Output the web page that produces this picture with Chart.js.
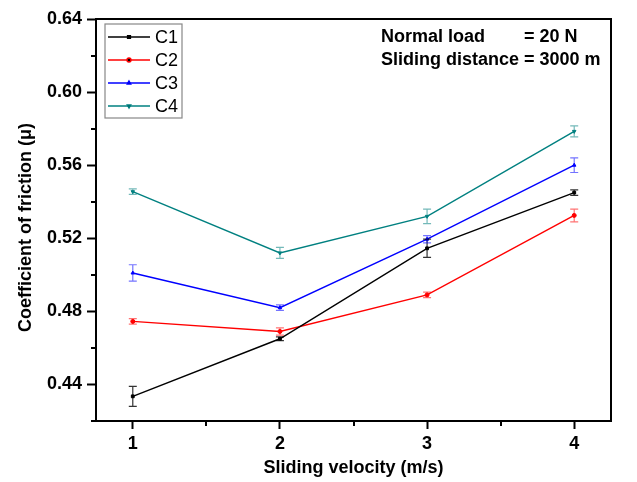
<!DOCTYPE html>
<html>
<head>
<meta charset="utf-8">
<script src="https://cdn.jsdelivr.net/npm/chart.js@4"></script>
<style>
  html, body { margin: 0; padding: 0; background: #fff; }
  #wrap { width: 637px; height: 482px; }
</style>
</head>
<body>
<div id="wrap"><canvas id="frictionChart" width="637" height="482"></canvas></div>
<script>
  const velocity = [1, 2, 3, 4];
  const seriesNames = ['C1', 'C2', 'C3', 'C4'];
  const c1 = [0.4335, 0.4650, 0.5145, 0.5450];
  const c2 = [0.4745, 0.4690, 0.4890, 0.5325];
  const c3 = [0.5010, 0.4820, 0.5195, 0.5600];
  const c4 = [0.5455, 0.5120, 0.5320, 0.5785];
  const c1Err = [0.0055, 0.0010, 0.0050, 0.0015];
  const c2Err = [0.0015, 0.0020, 0.0015, 0.0035];
  const c3Err = [0.0045, 0.0015, 0.0020, 0.0040];
  const c4Err = [0.0015, 0.0030, 0.0040, 0.0030];
  const yTicks = [0.44, 0.48, 0.52, 0.56, 0.60, 0.64];
  const yMinorTicks = [0.42, 0.46, 0.50, 0.54, 0.58, 0.62];
  const xMinorTicks = [1.5, 2.5, 3.5];

  const FONT = 'Arial, "Liberation Sans", sans-serif';
  Chart.defaults.font.family = FONT;
  Chart.defaults.color = '#000';

  const colors = ['#000000', '#ff0000', '#0000ff', '#008080'];
  const errColors = ['rgba(0,0,0,0.8)', 'rgba(255,0,0,0.55)', 'rgba(0,0,255,0.55)', 'rgba(0,128,128,0.55)'];
  const styles = ['rect', 'circle', 'triangle', 'triangle'];
  const rotations = [0, 0, 0, 180];
  const values = [c1, c2, c3, c4];
  const errors = [c1Err, c2Err, c3Err, c4Err];

  const datasets = values.map((vals, i) => ({
    label: seriesNames[i],
    data: vals.map((v, j) => ({ x: velocity[j], y: v })),
    err: errors[i],
    borderColor: colors[i],
    backgroundColor: colors[i],
    borderWidth: 1.4,
    pointStyle: styles[i],
    rotation: rotations[i],
    pointRadius: 2,
    pointBorderWidth: 1,
    tension: 0
  }));

  // error bars, minor ticks, frame, legend and the note
  const extras = {
    id: 'extras',
    afterDatasetsDraw(chart) {
      const { ctx, scales: { x, y } } = chart;
      ctx.save();
      chart.data.datasets.forEach((ds, i) => {
        ctx.strokeStyle = errColors[i];
        ctx.lineWidth = 1.2;
        ds.data.forEach((p, j) => {
          const px = x.getPixelForValue(p.x);
          const top = y.getPixelForValue(p.y + ds.err[j]);
          const bot = y.getPixelForValue(p.y - ds.err[j]);
          ctx.beginPath();
          ctx.moveTo(px, top); ctx.lineTo(px, bot);
          ctx.moveTo(px - 4, top); ctx.lineTo(px + 4, top);
          ctx.moveTo(px - 4, bot); ctx.lineTo(px + 4, bot);
          ctx.stroke();
        });
      });
      ctx.restore();
    },
    afterDraw(chart) {
      const { ctx, chartArea: a, scales: { x, y } } = chart;
      ctx.save();
      ctx.strokeStyle = '#000';
      ctx.lineWidth = 2;
      ctx.strokeRect(a.left, a.top, a.right - a.left, a.bottom - a.top);

      ctx.beginPath();
      yMinorTicks.forEach(v => {
        const py = Math.round(y.getPixelForValue(v));
        ctx.moveTo(a.left - 5, py); ctx.lineTo(a.left, py);
      });
      xMinorTicks.forEach(v => {
        const px = Math.round(x.getPixelForValue(v));
        ctx.moveTo(px, a.bottom); ctx.lineTo(px, a.bottom + 5);
      });
      ctx.stroke();

      // legend box
      ctx.strokeStyle = '#888';
      ctx.lineWidth = 1.2;
      ctx.strokeRect(105, 24, 77, 94);
      const rowY = [37, 60, 83, 106];
      ctx.font = '18px ' + FONT;
      ctx.textBaseline = 'middle';
      ctx.textAlign = 'left';
      chart.data.datasets.forEach((ds, i) => {
        ctx.strokeStyle = colors[i];
        ctx.lineWidth = 1.4;
        ctx.beginPath();
        ctx.moveTo(108, rowY[i]); ctx.lineTo(150, rowY[i]);
        ctx.stroke();
        Chart.helpers.drawPoint(ctx, {
          pointStyle: styles[i], rotation: rotations[i], radius: 2, borderWidth: 1
        }, 129, rowY[i]);
        ctx.fillStyle = '#000';
        ctx.fillText(ds.label, 155, rowY[i] + 1);
      });

      // note
      ctx.font = 'bold 18px ' + FONT;
      ctx.fillStyle = '#000';
      const lead = 'Sliding distance ';
      ctx.fillText('Normal load', 381, 37);
      ctx.fillText('= 20 N', 381 + ctx.measureText(lead).width, 37);
      ctx.fillText(lead + '= 3000 m', 381, 60);
      ctx.restore();
    }
  };

  new Chart(document.getElementById('frictionChart'), {
    type: 'line',
    data: { datasets },
    options: {
      responsive: false,
      animation: false,
      layout: { padding: { top: 19, right: 26, left: 0, bottom: 0 } },
      plugins: { legend: { display: false }, tooltip: { enabled: false } },
      scales: {
        x: {
          type: 'linear',
          min: 0.75,
          max: 4.25,
          afterFit: s => { s.height = 61; },
          ticks: {
            stepSize: 1,
            includeBounds: false,
            padding: 4,
            font: { size: 18, weight: 'bold' },
            callback: v => String(v)
          },
          grid: { drawOnChartArea: false, color: '#000', tickLength: 8, tickWidth: 2 },
          border: { color: '#000', width: 2 },
          title: {
            display: true,
            text: 'Sliding velocity (m/s)',
            font: { size: 18, weight: 'bold' },
            padding: { top: 0, bottom: 3 }
          }
        },
        y: {
          min: 0.42,
          max: 0.64,
          afterFit: s => { s.width = 96; },
          afterBuildTicks: s => { s.ticks = yTicks.map(v => ({ value: v })); },
          ticks: {
            padding: 5,
            font: { size: 18, weight: 'bold' },
            callback: v => v.toFixed(2)
          },
          grid: { drawOnChartArea: false, color: '#000', tickLength: 9, tickWidth: 2 },
          border: { color: '#000', width: 2 },
          title: {
            display: true,
            text: 'Coefficient of friction (\u03bc)   ',
            font: { size: 18, weight: 'bold' },
            padding: { top: 15, bottom: 0 }
          }
        }
      }
    },
    plugins: [extras]
  });
</script>
</body>
</html>
